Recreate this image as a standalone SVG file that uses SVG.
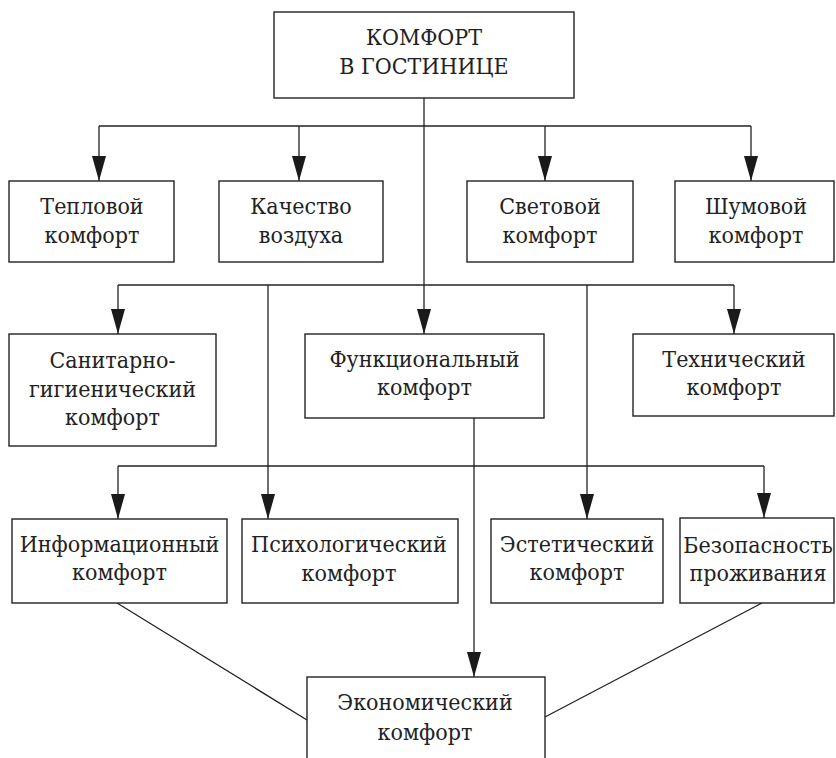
<svg xmlns="http://www.w3.org/2000/svg" width="836" height="758" viewBox="0 0 836 758">
<style>
  .box { fill: #ffffff; stroke: #222222; stroke-width: 1.4; }
  .ln { fill: none; stroke: #222222; stroke-width: 1.3; }
  .ar { fill: none; stroke: #222222; stroke-width: 1.3; marker-end: url(#arrow); }
  .t { font-family: 'DejaVu Serif Condensed', 'DejaVu Serif', serif; font-stretch: condensed; font-size: 23px; fill: #222222; text-anchor: middle; }
</style>
<defs>
  <marker id="arrow" viewBox="0 0 25 14" refX="25" refY="7" markerWidth="25" markerHeight="14" markerUnits="userSpaceOnUse" orient="auto">
    <path d="M0,0 L25,7 L0,14 Z" fill="#1a1a1a"/>
  </marker>
</defs>
<rect width="836" height="758" fill="#ffffff"/>
<g id="connectors">
  <line class="ar" x1="424" y1="98" x2="424" y2="334"/>
  <line class="ln" x1="99" y1="126" x2="751" y2="126"/>
  <line class="ar" x1="99" y1="126" x2="99" y2="181"/>
  <line class="ar" x1="299" y1="126" x2="299" y2="181"/>
  <line class="ar" x1="545" y1="126" x2="545" y2="181"/>
  <line class="ar" x1="751" y1="126" x2="751" y2="181"/>
  <line class="ln" x1="118" y1="285" x2="734" y2="285"/>
  <line class="ar" x1="118" y1="285" x2="118" y2="334"/>
  <line class="ar" x1="734" y1="285" x2="734" y2="334"/>
  <line class="ar" x1="268" y1="285" x2="268" y2="519"/>
  <line class="ar" x1="587" y1="285" x2="587" y2="519"/>
  <line class="ln" x1="118" y1="466" x2="764" y2="466"/>
  <line class="ar" x1="118" y1="466" x2="118" y2="519"/>
  <line class="ar" x1="764" y1="466" x2="764" y2="518"/>
  <line class="ar" x1="474" y1="418" x2="474" y2="677"/>
  <line class="ln" x1="117" y1="603" x2="307" y2="720"/>
  <line class="ln" x1="762" y1="603" x2="545" y2="717"/>
</g>
<g id="n_top">
  <rect class="box" x="274" y="12" width="300" height="86"/>
  <text class="t" x="424" y="45">КОМФОРТ</text>
  <text class="t" x="424" y="74">В ГОСТИНИЦЕ</text>
</g>
<g id="n_teplo">
  <rect class="box" x="9" y="181" width="165" height="81"/>
  <text class="t" x="92" y="214">Тепловой</text>
  <text class="t" x="92" y="243">комфорт</text>
</g>
<g id="n_vozduh">
  <rect class="box" x="219" y="181" width="164" height="81"/>
  <text class="t" x="301" y="214">Качество</text>
  <text class="t" x="301" y="243">воздуха</text>
</g>
<g id="n_svet">
  <rect class="box" x="467" y="181" width="166" height="81"/>
  <text class="t" x="550" y="214">Световой</text>
  <text class="t" x="550" y="243">комфорт</text>
</g>
<g id="n_shum">
  <rect class="box" x="675" y="181" width="159" height="81"/>
  <text class="t" x="756" y="214">Шумовой</text>
  <text class="t" x="756" y="243">комфорт</text>
</g>
<g id="n_sanit">
  <rect class="box" x="9" y="334" width="207" height="112"/>
  <text class="t" x="112.5" y="368">Санитарно-</text>
  <text class="t" x="112.5" y="397">гигиенический</text>
  <text class="t" x="112.5" y="425">комфорт</text>
</g>
<g id="n_func">
  <rect class="box" x="305" y="334" width="239" height="84"/>
  <text class="t" x="424.5" y="367">Функциональный</text>
  <text class="t" x="424.5" y="395">комфорт</text>
</g>
<g id="n_tech">
  <rect class="box" x="633" y="334" width="201" height="82"/>
  <text class="t" x="734" y="367">Технический</text>
  <text class="t" x="734" y="395">комфорт</text>
</g>
<g id="n_inform">
  <rect class="box" x="12" y="519" width="215" height="84"/>
  <text class="t" x="119.5" y="552">Информационный</text>
  <text class="t" x="119.5" y="580">комфорт</text>
</g>
<g id="n_psych">
  <rect class="box" x="242" y="519" width="216" height="84"/>
  <text class="t" x="349" y="552">Психологический</text>
  <text class="t" x="349" y="581">комфорт</text>
</g>
<g id="n_estet">
  <rect class="box" x="491" y="519" width="172" height="84"/>
  <text class="t" x="577" y="552">Эстетический</text>
  <text class="t" x="577" y="580">комфорт</text>
</g>
<g id="n_bezop">
  <rect class="box" x="680" y="518" width="154" height="85"/>
  <text class="t" x="758" y="553">Безопасность</text>
  <text class="t" x="758" y="581">проживания</text>
</g>
<g id="n_econ">
  <rect class="box" x="307" y="677" width="238" height="100"/>
  <text class="t" x="425" y="710">Экономический</text>
  <text class="t" x="425" y="740">комфорт</text>
</g>
</svg>
